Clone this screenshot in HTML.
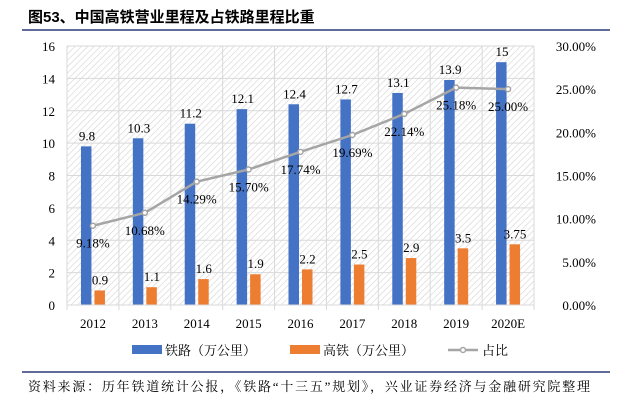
<!DOCTYPE html>
<html><head><meta charset="utf-8"><style>
body{margin:0;background:#fff;width:633px;height:403px;overflow:hidden;font-family:"Liberation Serif","Noto Serif CJK SC",serif}
</style></head><body>
<svg width="633" height="403" xmlns="http://www.w3.org/2000/svg">
<defs><pattern id="hatch" width="4.5" height="4.5" patternUnits="userSpaceOnUse" patternTransform="rotate(45)"><line x1="0" y1="0" x2="0" y2="4.5" stroke="#d6d6d6" stroke-width="1.3"/></pattern></defs>
<text x="28" y="22" font-size="15" font-weight="bold" fill="#000" font-family="Liberation Sans,Noto Sans CJK SC,sans-serif">图53、中国高铁营业里程及占铁路里程比重</text>
<line x1="22" y1="30" x2="610" y2="30" stroke="#2d3a78" stroke-width="1.5"/>
<rect x="67" y="46" width="467" height="259" fill="url(#hatch)"/>
<g id="grid"></g><g id="bars"></g><g id="line"></g><g id="labels"></g><g id="axes"></g>
<g font-size="13" font-family="Liberation Serif,Noto Serif CJK SC,serif">
<rect x="132" y="345" width="30" height="9" fill="#4472c4"/>
<text x="165" y="355">铁路（万公里）</text>
<rect x="290" y="345" width="30" height="9" fill="#ed7d31"/>
<text x="323" y="355">高铁（万公里）</text>
<line x1="448" y1="350" x2="478" y2="350" stroke="#a5a5a5" stroke-width="2.5"/>
<circle cx="463" cy="350" r="2.5" fill="#fff" stroke="#a5a5a5" stroke-width="1.5"/>
<text x="482" y="355">占比</text>
</g>
<line x1="22" y1="372" x2="610" y2="372" stroke="#2d3a78" stroke-width="1.5"/>
<text x="28" y="391" font-size="13" textLength="562" lengthAdjust="spacing" font-family="Liberation Serif,Noto Serif CJK SC,serif">资料来源：历年铁道统计公报，《铁路“十三五”规划》，兴业证券经济与金融研究院整理</text>
</svg>
<script>
const categories=['2012','2013','2014','2015','2016','2017','2018','2019','2020E'];
const railValues=[9.8,10.3,11.2,12.1,12.4,12.7,13.1,13.9,15];
const hsrValues=[0.9,1.1,1.6,1.9,2.2,2.5,2.9,3.5,3.75];
const shareValues=[9.18,10.68,14.29,15.70,17.74,19.69,22.14,25.18,25.00];
const leftTicks=[0,2,4,6,8,10,12,14,16];
const rightTicks=[0,5,10,15,20,25,30];
const NS='http://www.w3.org/2000/svg';
const X0=67,X1=534,Y0=305,Y1=46,cw=(X1-X0)/categories.length;
const yL=v=>Y0-v/16*(Y0-Y1), yR=v=>Y0-v/30*(Y0-Y1), xc=i=>X0+cw*(i+0.5);
function mk(tag,attrs,parent,txt){const e=document.createElementNS(NS,tag);for(const k in attrs)e.setAttribute(k,attrs[k]);if(txt!==undefined)e.textContent=txt;document.getElementById(parent).appendChild(e);return e;}
leftTicks.forEach(t=>{const g=mk('line',{x1:X0,x2:X1,y1:yL(t),y2:yL(t),stroke:'#d9d9d9','stroke-width':1},'grid');

const l=mk('text',{x:X0-12,y:yL(t)+5,'font-size':13,'text-anchor':'end'},'axes',String(t));
});
for(let i=0;i<=categories.length;i++){const g=mk('line',{x1:X0+cw*i,x2:X0+cw*i,y1:Y1,y2:Y0+5,stroke:'#d9d9d9','stroke-width':1},'grid');
}
rightTicks.forEach(t=>{const l=mk('text',{x:596,y:yR(t)+5,'font-size':13,'text-anchor':'end'},'axes',t.toFixed(2)+'%');
});
categories.forEach((c,i)=>{const l=mk('text',{x:xc(i),y:Y0+23,'font-size':13,'text-anchor':'middle'},'axes',c);

const b=mk('rect',{x:xc(i)-12,y:yL(railValues[i]),width:10.5,height:Y0-yL(railValues[i]),fill:'#4472c4'},'bars');

const o=mk('rect',{x:xc(i)+1.5,y:yL(hsrValues[i]),width:10.5,height:Y0-yL(hsrValues[i]),fill:'#ed7d31'},'bars');

const t1=mk('text',{x:xc(i)-6,y:yL(railValues[i])-6,'font-size':13,'text-anchor':'middle'},'labels',String(railValues[i]));

const t2=mk('text',{x:xc(i)+7,y:yL(hsrValues[i])-6,'font-size':13,'text-anchor':'middle'},'labels',String(hsrValues[i]));

const t3=mk('text',{x:xc(i),y:yR(shareValues[i])+22,'font-size':13,'text-anchor':'middle'},'labels',shareValues[i].toFixed(2)+'%');
});
const pl=mk('polyline',{points:shareValues.map((v,i)=>xc(i)+','+yR(v)).join(' '),fill:'none',stroke:'#a5a5a5','stroke-width':2.5},'line');

shareValues.forEach((v,i)=>{const m=mk('circle',{cx:xc(i),cy:yR(v),r:2.5,fill:'#fff',stroke:'#a5a5a5','stroke-width':1.5},'line');
});
const ax=mk('line',{x1:X0,x2:X1,y1:Y0,y2:Y0,stroke:'#d9d9d9','stroke-width':1},'axes');

</script>
</body></html>
